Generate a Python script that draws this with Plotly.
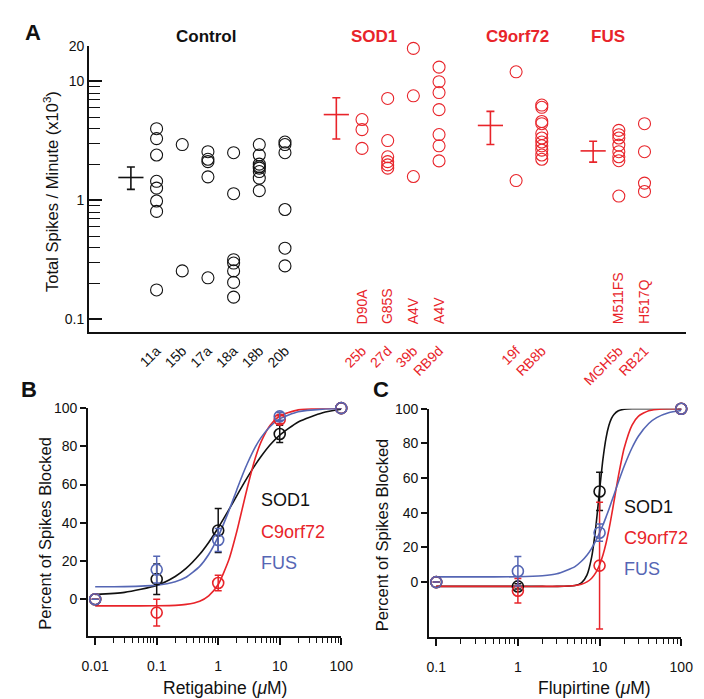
import plotly.graph_objects as go

W, H = 704, 699
BLACK = "#111111"
RED = "#E8242A"
BLUE = "#5566B4"
FONT = "Arial, Liberation Sans, Helvetica, sans-serif"

# ---------------- Panel A data ----------------
x_slots = ["Control mean", "11a", "15b", "17a", "18a", "18b", "20b", "gap1",
           "SOD1 mean", "25b", "27d", "39b", "RB9d", "gap2",
           "C9orf72 mean", "19f", "RB8b", "gap3",
           "FUS mean", "MGH5b", "RB21"]
control_lines = ["11a", "15b", "17a", "18a", "18b", "20b"]
als_lines = ["25b", "27d", "39b", "RB9d", "19f", "RB8b", "MGH5b", "RB21"]
mutations = {"25b": "D90A", "27d": "G85S", "39b": "A4V", "RB9d": "A4V",
             "MGH5b": "M511FS", "RB21": "H517Q"}

spikes_11a = [4.01, 3.31, 2.41, 1.45, 1.27, 0.99, 0.81, 0.177]
spikes_15b = [2.95, 0.256]
spikes_17a = [2.57, 2.22, 2.12, 1.58, 0.224]
spikes_18a = [2.52, 1.14, 0.318, 0.298, 0.256, 0.205, 0.154]
spikes_18b = [2.95, 2.41, 2.02, 1.93, 1.87, 1.75, 1.54, 1.21]
spikes_20b = [3.10, 2.95, 2.52, 0.84, 0.397, 0.282]
spikes_25b = [4.79, 3.94, 2.74]
spikes_27d = [7.20, 3.19, 2.33, 2.12, 1.99, 1.87]
spikes_39b = [18.97, 7.58, 1.59]
spikes_RB9d = [13.2, 9.96, 8.07, 5.80, 3.58, 2.88, 2.15]
spikes_19f = [12.06, 1.47]
spikes_RB8b = [6.34, 6.07, 4.61, 4.42, 3.65, 3.35, 3.10, 2.88, 2.65, 2.41, 2.22]
spikes_MGH5b = [3.88, 3.57, 3.35, 2.92, 2.57, 2.33, 2.16, 1.09]
spikes_RB21 = [4.42, 2.57, 1.40, 1.19]

group_names = ["Control", "SOD1", "C9orf72", "FUS"]
group_mean = [1.56, 5.27, 4.27, 2.61]
group_upper = [1.91, 7.30, 5.61, 3.15]
group_lower = [1.24, 3.29, 2.95, 2.10]

# ---------------- Panel B data (Retigabine) ----------------
retig_conc = [0.01, 0.1, 1, 10, 100]
retig_sod1 = [0, 10.5, 36, 86.5, 100]
retig_sod1_err = [None, 8, 11.5, 4.5, None]
retig_c9 = [0, -7, 8.5, 94, 100]
retig_c9_err = [None, 7, 4, 2, None]
retig_fus = [0, 15.5, 31, 95.7, 100]
retig_fus_err = [None, 7, 6, 2, None]

retig_fit_x = [0.01, 0.03, 0.1, 0.2, 0.3, 0.5, 0.7, 1, 1.5, 2, 2.5, 3, 4, 5, 7, 10, 20, 50, 100]
retig_fit_sod1 = [2.5, 3.6, 7.2, 11.9, 16.1, 23.5, 29.7, 37.4, 47, 54.1, 59.6, 63.9, 70.3, 74.8, 80.8, 85.9, 92.8, 97.6, 99.4]
retig_fit_c9 = [-3.5, -3.5, -3.4, -3.2, -2.7, -1.0, 1.8, 7.7, 20.9, 35.3, 48.3, 58.9, 73.8, 82.5, 91.1, 95.9, 99.1, 99.9, 100]
retig_fit_fus = [6.5, 6.6, 7.4, 9.2, 11.5, 17.2, 23.4, 32.8, 46.5, 57.2, 65.3, 71.3, 79.6, 84.7, 90.4, 94.4, 98.1, 99.5, 99.8]

# ---------------- Panel C data (Flupirtine) ----------------
flup_conc = [0.1, 1, 10, 100]
flup_sod1 = [0, -2.5, 52.3, 100]
flup_sod1_err = [None, 1.5, 11, None]
flup_c9 = [0, -5, 9.5, 100]
flup_c9_err = [None, 7, 36.5, None]
flup_fus = [0, 6.3, 28.5, 100]
flup_fus_err = [None, 8.5, 5, None]

flup_fit_x = [0.1, 0.5, 1, 2, 3, 5, 6, 7, 8, 9, 10, 11, 12, 13, 14, 15, 17, 20, 25, 30, 40, 50, 70, 100]
flup_fit_sod1 = [-2.5, -2.5, -2.5, -2.5, -2.5, -2.0, -0.5, 4.0, 14.4, 31.9, 52.9, 70.9, 83.1, 90.3, 94.4, 96.7, 98.8, 99.7, 100, 100, 100, 100, 100, 100]
flup_fit_c9 = [-2.5, -2.5, -2.5, -2.5, -2.45, -1.95, -1.2, 0.1, 2.2, 5.45, 9.9, 15.6, 22.4, 30.1, 38.3, 46.4, 61.1, 77.2, 90.6, 95.8, 98.9, 99.6, 100, 100]
flup_fit_fus = [3, 3, 3.1, 3.7, 4.8, 8.95, 12.0, 15.5, 19.5, 23.9, 28.4, 32.9, 37.5, 41.9, 46.3, 50.3, 57.7, 66.8, 77.5, 84.3, 91.5, 94.9, 97.7, 99]


def px(p):
    return p / W


def py(p):
    return 1 - p / H


fig = go.Figure()

# ---------------- Panel A traces ----------------
line_values = {
    "11a": spikes_11a, "15b": spikes_15b, "17a": spikes_17a, "18a": spikes_18a,
    "18b": spikes_18b, "20b": spikes_20b, "25b": spikes_25b, "27d": spikes_27d,
    "39b": spikes_39b, "RB9d": spikes_RB9d, "19f": spikes_19f, "RB8b": spikes_RB8b,
    "MGH5b": spikes_MGH5b, "RB21": spikes_RB21,
}
for name, vals in line_values.items():
    col = BLACK if name in control_lines else RED
    fig.add_trace(go.Scatter(
        x=[name] * len(vals), y=vals, mode="markers", xaxis="x", yaxis="y",
        marker=dict(symbol="circle-open", size=12, color=col, line=dict(width=1.1, color=col)),
        cliponaxis=False, showlegend=False, hoverinfo="y"))

for i, g in enumerate(group_names):
    col = BLACK if g == "Control" else RED
    fig.add_trace(go.Scatter(
        x=[g + " mean"], y=[group_mean[i]], mode="markers", xaxis="x", yaxis="y",
        marker=dict(symbol="line-ew", size=18, color=col, line=dict(width=1.6, color=col)),
        error_y=dict(type="data", symmetric=False,
                     array=[group_upper[i] - group_mean[i]],
                     arrayminus=[group_mean[i] - group_lower[i]],
                     color=col, thickness=1.6, width=4),
        cliponaxis=False, showlegend=False))

# ---------------- Panels B and C traces ----------------
def add_curve(xs, ys, col, xa, ya):
    fig.add_trace(go.Scatter(x=xs, y=ys, mode="lines", xaxis=xa, yaxis=ya,
                             line=dict(color=col, width=1.6, shape="spline", smoothing=0.6),
                             cliponaxis=False, showlegend=False))


def add_points(xs, ys, errs, col, xa, ya):
    fig.add_trace(go.Scatter(
        x=xs, y=ys, mode="markers", xaxis=xa, yaxis=ya,
        marker=dict(symbol="circle-open", size=11, color=col, line=dict(width=1.6, color=col)),
        error_y=dict(type="data", array=errs, color=col, thickness=1.5, width=3.5),
        cliponaxis=False, showlegend=False))


add_curve(retig_fit_x, retig_fit_sod1, BLACK, "x2", "y2")
add_curve(retig_fit_x, retig_fit_c9, RED, "x2", "y2")
add_curve(retig_fit_x, retig_fit_fus, BLUE, "x2", "y2")
add_points(retig_conc, retig_sod1, retig_sod1_err, BLACK, "x2", "y2")
add_points(retig_conc, retig_c9, retig_c9_err, RED, "x2", "y2")
add_points(retig_conc, retig_fus, retig_fus_err, BLUE, "x2", "y2")

add_curve(flup_fit_x, flup_fit_sod1, BLACK, "x3", "y3")
add_curve(flup_fit_x, flup_fit_c9, RED, "x3", "y3")
add_curve(flup_fit_x, flup_fit_fus, BLUE, "x3", "y3")
add_points(flup_conc, flup_sod1, flup_sod1_err, BLACK, "x3", "y3")
add_points(flup_conc, flup_c9, flup_c9_err, RED, "x3", "y3")
add_points(flup_conc, flup_fus, flup_fus_err, BLUE, "x3", "y3")

# ---------------- Axes ----------------
tick_names = control_lines + als_lines
tick_text = [f'<span style="color:{BLACK if n in control_lines else RED}">{n}</span>' for n in tick_names]

axis_common = dict(showline=True, linewidth=2, linecolor=BLACK, showgrid=False, zeroline=False,
                   tickfont=dict(family=FONT, size=14, color=BLACK), tickcolor=BLACK)

log_minor = lambda lo, hi: [m * 10 ** e for e in range(lo, hi) for m in range(2, 10)]

fig.update_layout(
    width=W, height=H, margin=dict(l=0, r=0, t=0, b=0),
    paper_bgcolor="white", plot_bgcolor="white",
    font=dict(family=FONT, color=BLACK),
    xaxis=dict(axis_common, domain=[px(77), px(690)], anchor="y", type="category",
               categoryorder="array", categoryarray=x_slots, range=[-1.63, 21.63],
               tickmode="array", tickvals=tick_names, ticktext=tick_text,
               ticks="", tickangle=-45, ticklabelstandoff=3),
    yaxis=dict(axis_common, domain=[py(320), py(30)], anchor="x", type="log",
               range=[-1.108, 1.301], tickmode="array", tickvals=[0.1, 1, 10, 20],
               ticktext=["0.1", "1", "10", "20"], ticks="inside", ticklen=13, tickwidth=1.6,
               minor=dict(tickmode="array", tickvals=log_minor(-1, 1), ticks="inside",
                          ticklen=11, tickwidth=1.4, tickcolor=BLACK)),
    xaxis2=dict(axis_common, domain=[px(76), px(336)], anchor="y2", type="log",
                range=[-2.116, 2.003], tickmode="array", tickvals=[0.01, 0.1, 1, 10, 100],
                ticktext=["0.01", "0.1", "1", "10", "100"], ticks="outside", ticklen=7,
                tickwidth=1.6, ticklabelstandoff=10,
                minor=dict(tickmode="array", tickvals=log_minor(-2, 2), ticks="outside",
                           ticklen=5, tickwidth=1.4, tickcolor=BLACK)),
    yaxis2=dict(axis_common, domain=[py(626.7), py(396.7)], anchor="x2",
                range=[-19, 100], tickmode="array", tickvals=[0, 20, 40, 60, 80, 100],
                ticks="outside", ticklen=6, tickwidth=1.6),
    xaxis3=dict(axis_common, domain=[px(426), px(685)], anchor="y3", type="log",
                range=[-1.087, 2.003], tickmode="array", tickvals=[0.1, 1, 10, 100],
                ticktext=["0.1", "1", "10", "100"], ticks="outside", ticklen=7,
                tickwidth=1.6, ticklabelstandoff=10,
                minor=dict(tickmode="array", tickvals=log_minor(-1, 2), ticks="outside",
                           ticklen=5, tickwidth=1.4, tickcolor=BLACK)),
    yaxis3=dict(axis_common, domain=[py(627.7), py(397.3)], anchor="x3",
                range=[-31.4, 100], tickmode="array", tickvals=[0, 20, 40, 60, 80, 100],
                ticks="outside", ticklen=6, tickwidth=1.6),
)

# ---------------- Annotations ----------------
ann = []


def text_px(t, x, y, size, color=BLACK, bold=False, angle=0, xanchor="center", yanchor="middle"):
    ann.append(dict(text=f"<b>{t}</b>" if bold else t, x=px(x), y=py(y), xref="paper", yref="paper",
                    showarrow=False, textangle=angle, xanchor=xanchor, yanchor=yanchor,
                    font=dict(family=FONT, size=size, color=color)))


# panel letters
text_px("A", 19, 17, 22, bold=True)
text_px("B", 15, 378, 22, bold=True)
text_px("C", 377, 378, 22, bold=True)

# group headers
header_x = {"Control": 196.7, "SOD1": 369.3, "C9orf72": 516.7, "FUS": 610}
for g in group_names:
    text_px(g, header_x[g], 21, 17, color=BLACK if g == "Control" else RED, bold=True)

# mutation labels (placed on the category axis)
for line, mut in mutations.items():
    ann.append(dict(text=mut, x=x_slots.index(line), xref="x", y=py(314), yref="paper",
                    showarrow=False, textangle=-90, xanchor="center", yanchor="bottom",
                    font=dict(family=FONT, size=14, color=RED)))

# axis titles
text_px("Total Spikes / Minute (x10<sup>3</sup>)", 38, 178, 16.5, angle=-90)
text_px("Percent of Spikes Blocked", 31.5, 523, 16.5, angle=-90)
text_px("Percent of Spikes Blocked", 378, 525, 16.5, angle=-90)
text_px("Retigabine (<i>μ</i>M)", 216.7, 680, 17.5)
text_px("Flupirtine (<i>μ</i>M)", 595.7, 680, 17.5)

# in-plot series labels
series_names = ["SOD1", "C9orf72", "FUS"]
series_cols = [BLACK, RED, BLUE]
b_label_y = [490, 522, 553]
c_label_y = [497, 528, 559]
for n, c, yb, yc in zip(series_names, series_cols, b_label_y, c_label_y):
    text_px(n, 251, yb, 18, color=c, xanchor="left")
    text_px(n, 623.5, yc, 18, color=c, xanchor="left")

fig.update_layout(annotations=ann)

fig.write_html("out.html")
